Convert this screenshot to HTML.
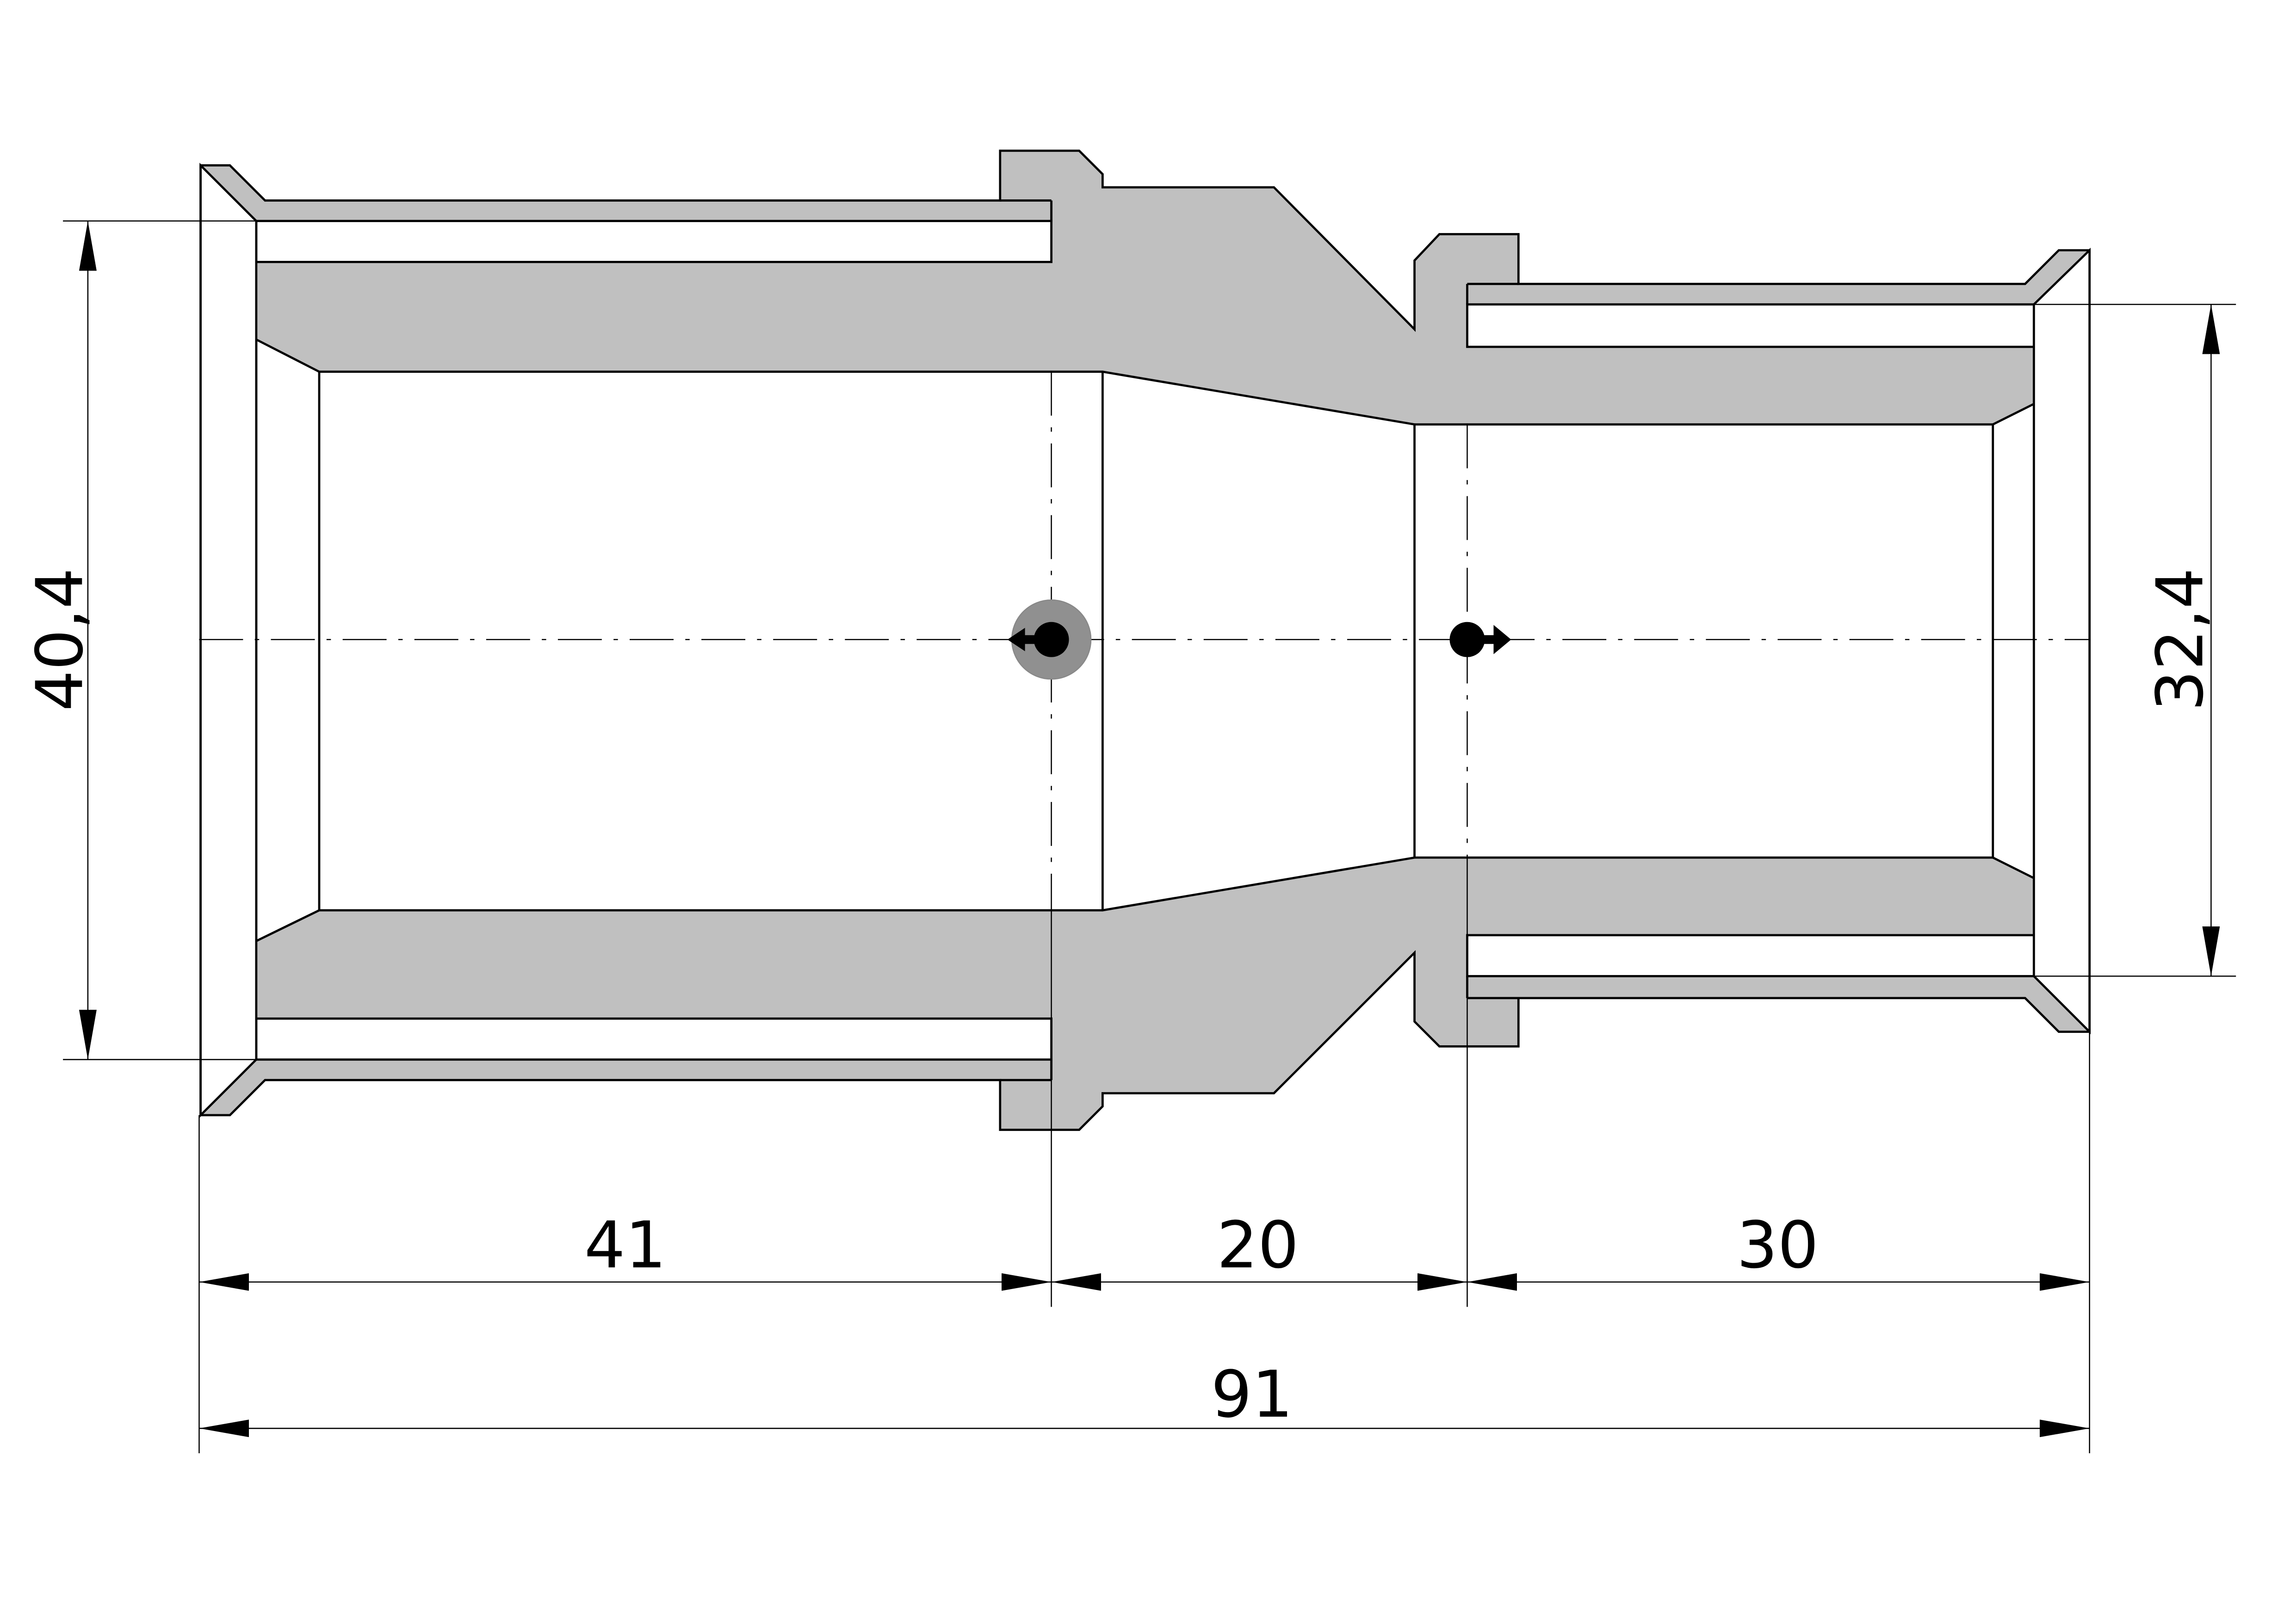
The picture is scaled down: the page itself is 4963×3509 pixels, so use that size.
<!DOCTYPE html>
<html><head><meta charset="utf-8"><style>html,body{margin:0;padding:0;background:#fff}svg{display:block}</style></head>
<body>
<svg width="4963" height="3509" viewBox="0 0 1568 1109" preserveAspectRatio="none" xmlns="http://www.w3.org/2000/svg">
<defs>
<marker id="a" viewBox="0 0 34 12" refX="0" refY="6" markerWidth="34" markerHeight="12" markerUnits="userSpaceOnUse" orient="auto"><path d="M0,6 L34,0 L34,12 Z" fill="#000"/></marker>
<marker id="b" viewBox="0 0 34 12" refX="34" refY="6" markerWidth="34" markerHeight="12" markerUnits="userSpaceOnUse" orient="auto"><path d="M34,6 L0,0 L0,12 Z" fill="#000"/></marker>
</defs>
<g stroke="#000" stroke-width="1.5" stroke-linejoin="miter">
<polygon fill="#c0c0c0" points="137,113 157,113 181,137 683,137 683,103 737,103 753,119 753,128 870,128 966,225 966,178 983,160 1037,160 1037,194 1383,194 1406,171 1427,171 1427,705 1406,705 1383,682 1037,682 1037,715 983,715 966,698 966,651 870,747 753,747 753,756 737,772 683,772 683,738 181,738 157,762 137,762"/>
<polygon fill="#fff" points="175,232 218,254 753,254 966,290 1361,290 1389,276 1389,600 1361,586 966,586 753,622 218,622 175,643"/>
<line x1="218" y1="254" x2="218" y2="622"/>
<line x1="753" y1="254" x2="753" y2="622"/>
<line x1="966" y1="290" x2="966" y2="586"/>
<line x1="1361" y1="290" x2="1361" y2="586"/>
<rect x="175" y="151" width="543" height="28" fill="#fff"/>
<rect x="175" y="696" width="543" height="28" fill="#fff"/>
<rect x="1002" y="208" width="387" height="29" fill="#fff"/>
<rect x="1002" y="639" width="387" height="28" fill="#fff"/>
<line x1="683" y1="137" x2="718" y2="137"/>
<line x1="683" y1="738" x2="718" y2="738"/>
<line x1="1002" y1="194" x2="1037" y2="194"/>
<line x1="1002" y1="682" x2="1037" y2="682"/>
<line x1="718" y1="137" x2="718" y2="151"/>
<line x1="718" y1="724" x2="718" y2="738"/>
<line x1="1002" y1="194" x2="1002" y2="208"/>
<line x1="1002" y1="667" x2="1002" y2="682"/>
<polygon fill="#fff" points="137,113 175,151 175,724 137,762"/>
<polygon fill="#fff" points="1427,171 1389,208 1389,667 1427,705"/>
</g>
<g stroke="#000" stroke-width="0.8" fill="none">
<line x1="136" y1="437" x2="1427" y2="437" stroke-dasharray="30,8,3,8"/>
<line x1="718" y1="254" x2="718" y2="622" stroke-dasharray="30,8,3,8"/>
<line x1="1002" y1="290" x2="1002" y2="586" stroke-dasharray="30,8,3,8"/>
<line x1="43" y1="151" x2="175" y2="151"/>
<line x1="43" y1="724" x2="175" y2="724"/>
<line x1="60" y1="151" x2="60" y2="724" marker-start="url(#a)" marker-end="url(#b)"/>
<line x1="1389" y1="208" x2="1527" y2="208"/>
<line x1="1389" y1="667" x2="1527" y2="667"/>
<line x1="1510" y1="208" x2="1510" y2="667" marker-start="url(#a)" marker-end="url(#b)"/>
<line x1="136" y1="762" x2="136" y2="993"/>
<line x1="718" y1="622" x2="718" y2="893"/>
<line x1="1002" y1="586" x2="1002" y2="893"/>
<line x1="1427" y1="705" x2="1427" y2="993"/>
<line x1="136" y1="876" x2="718" y2="876" marker-start="url(#a)" marker-end="url(#b)"/>
<line x1="718" y1="876" x2="1002" y2="876" marker-start="url(#a)" marker-end="url(#b)"/>
<line x1="1002" y1="876" x2="1427" y2="876" marker-start="url(#a)" marker-end="url(#b)"/>
<line x1="136" y1="976" x2="1427" y2="976" marker-start="url(#a)" marker-end="url(#b)"/>
</g>
<circle cx="718" cy="437" r="27" fill="#909090" stroke="#888" stroke-width="0.8"/>
<circle cx="718" cy="437" r="12" fill="#000"/>
<path d="M718,434 L700,434 L700,429 L688,437 L700,445 L700,440 L718,440 Z" fill="#000"/>
<circle cx="1002" cy="437" r="12" fill="#000"/>
<path d="M1002,434 L1020,434 L1020,427 L1032,437 L1020,447 L1020,440 L1002,440 Z" fill="#000"/>
<g font-family="'DejaVu Sans','Liberation Sans',sans-serif" font-size="44" fill="#000" text-anchor="middle">
<text x="427" y="866">41</text>
<text x="859" y="866">20</text>
<text x="1214" y="866">30</text>
<text x="855" y="968">91</text>
<text transform="translate(56,437) rotate(-90)">40,4</text>
<text transform="translate(1504,437) rotate(-90)">32,4</text>
</g>
</svg>
</body></html>
